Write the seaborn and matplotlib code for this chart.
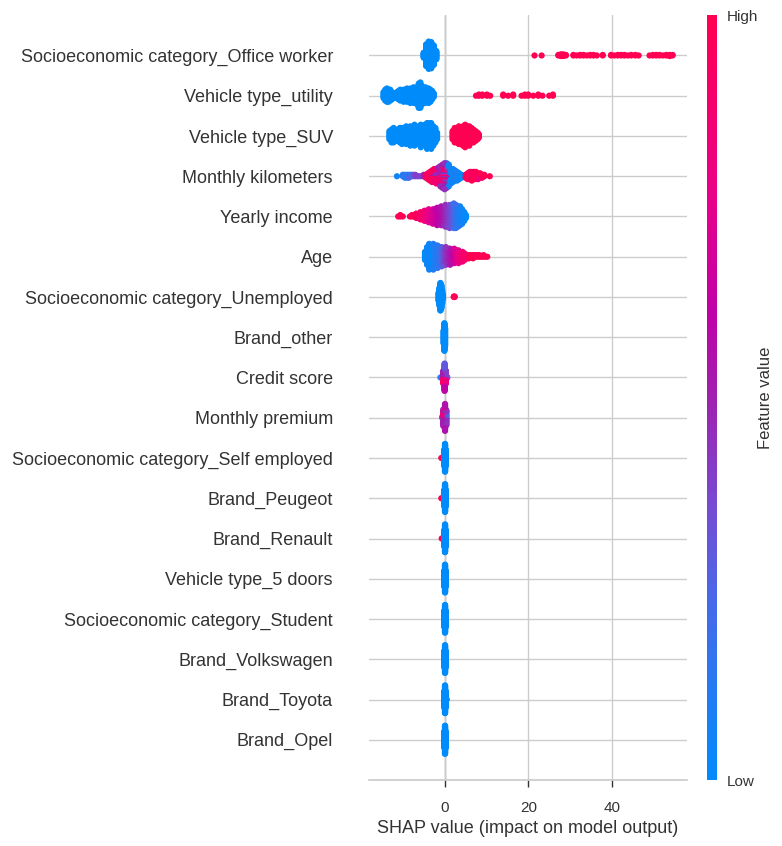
import numpy as np
import pandas as pd
import matplotlib
matplotlib.use('Agg')
import matplotlib.pyplot as plt
from matplotlib.colors import LinearSegmentedColormap, Normalize
from matplotlib.cm import ScalarMappable
import seaborn as sns

# features, top to bottom
features = [
    "Socioeconomic category_Office worker", "Vehicle type_utility", "Vehicle type_SUV",
    "Monthly kilometers", "Yearly income", "Age", "Socioeconomic category_Unemployed",
    "Brand_other", "Credit score", "Monthly premium", "Socioeconomic category_Self employed",
    "Brand_Peugeot", "Brand_Renault", "Vehicle type_5 doors", "Socioeconomic category_Student",
    "Brand_Volkswagen", "Brand_Toyota", "Brand_Opel",
]

# each row: (shap value, number of samples, feature value 0..1)
office_worker = [(-5.0, 10, 0), (-4.4, 40, 0), (-3.8, 50, 0), (-3.2, 48, 0), (-2.6, 36, 0), (-2.0, 16, 0),
                 (21.5, 1, 1), (23.2, 1, 1), (27.2, 2, 1), (27.8, 4, 1), (28.4, 4, 1), (29.0, 2, 1),
                 (30.8, 2, 1), (31.6, 1, 1), (32.4, 2, 1), (33.2, 2, 1), (34.0, 1, 1), (34.8, 2, 1),
                 (35.6, 2, 1), (36.4, 1, 1), (37.8, 2, 1), (39.8, 2, 1), (40.6, 1, 1), (41.4, 2, 1),
                 (42.2, 2, 1), (43.0, 2, 1), (43.8, 1, 1), (44.6, 2, 1), (45.6, 2, 1), (46.4, 1, 1),
                 (49.0, 1, 1), (49.8, 2, 1), (50.6, 2, 1), (51.4, 2, 1), (52.2, 1, 1), (53.0, 2, 1),
                 (53.8, 3, 1), (54.5, 2, 1)]
vehicle_utility = [(-14.6, 6, 0), (-14.2, 10, 0), (-13.8, 12, 0), (-13.4, 11, 0), (-13.0, 10, 0), (-12.6, 7, 0),
                   (-12.2, 5, 0), (-11.8, 4, 0), (-11.4, 6, 0), (-11.0, 8, 0), (-10.6, 10, 0), (-10.2, 8, 0),
                   (-9.8, 11, 0), (-9.4, 9, 0), (-9.0, 12, 0), (-8.6, 10, 0), (-8.2, 13, 0), (-7.8, 11, 0),
                   (-7.4, 14, 0), (-7.0, 12, 0), (-6.6, 15, 0), (-6.2, 21, 0), (-5.8, 22, 0), (-5.4, 16, 0),
                   (-5.0, 13, 0), (-4.6, 14, 0), (-4.2, 12, 0), (-3.8, 13, 0), (-3.4, 11, 0), (-3.0, 8, 0),
                   (-2.6, 4, 0),
                   (7.5, 1, 1), (8.2, 2, 1), (9.0, 2, 1), (10.1, 2, 1), (10.9, 1, 1), (14.0, 2, 1),
                   (15.2, 1, 1), (16.4, 2, 1), (18.4, 1, 1), (19.2, 2, 1), (20.0, 2, 1), (21.2, 1, 1),
                   (22.4, 2, 1), (23.4, 1, 1), (25.0, 1, 1), (25.9, 2, 1)]
vehicle_suv = [(-13.2, 6, 0), (-12.7, 9, 0), (-12.2, 10, 0), (-11.7, 8, 0), (-11.2, 7, 0), (-10.7, 10, 0),
               (-10.2, 11, 0), (-9.7, 9, 0), (-9.2, 12, 0), (-8.7, 10, 0), (-8.2, 13, 0), (-7.7, 11, 0),
               (-7.2, 14, 0), (-6.7, 11, 0), (-6.2, 12, 0), (-5.7, 15, 0), (-5.2, 12, 0), (-4.7, 14, 0),
               (-4.2, 17, 0), (-3.7, 16, 0), (-3.2, 17, 0), (-2.7, 13, 0), (-2.2, 10, 0), (-1.8, 5, 0),
               (1.9, 6, 1), (2.4, 10, 1), (2.9, 9, 1), (3.4, 12, 1), (3.9, 11, 1), (4.4, 13, 1),
               (4.9, 15, 1), (5.4, 12, 1), (5.9, 13, 1), (6.4, 10, 1), (6.9, 9, 1), (7.4, 7, 1),
               (7.9, 5, 1), (8.2, 3, 1)]
monthly_km = [(-11.4, 1, 0.05), (-10.0, 2, 0.1), (-9.5, 3, 0.2), (-9.0, 3, 0.05), (-8.5, 3, 0.25),
              (-8.0, 2, 0.1), (-7.5, 2, 0.3), (-7.0, 2, 0.4), (-6.5, 1, 0.35), (-6.0, 1, 0.4),
              (-5.5, 1, 0.35), (-5.0, 2, 0.5),
              (-4.5, 3, 0.95), (-4.0, 4, 0.9), (-4.0, 1, 0.5), (-3.5, 5, 1.0), (-3.5, 2, 0.6),
              (-3.0, 6, 0.9), (-3.0, 3, 0.55), (-2.5, 6, 0.95), (-2.5, 4, 0.5), (-2.0, 7, 0.85),
              (-2.0, 4, 0.45), (-1.5, 6, 0.9), (-1.5, 6, 0.5), (-1.0, 6, 0.8), (-1.0, 7, 0.45),
              (-1.0, 2, 0.1), (-0.5, 6, 0.9), (-0.5, 8, 0.5), (-0.5, 3, 0.2), (0.0, 5, 0.85),
              (0.0, 9, 0.45), (0.0, 5, 0.15), (0.5, 4, 0.9), (0.5, 7, 0.5), (0.5, 7, 0.1),
              (1.0, 3, 0.8), (1.0, 5, 0.4), (1.0, 8, 0.05), (1.5, 2, 0.6), (1.5, 9, 0.05),
              (2.0, 1, 0.9), (2.0, 9, 0.05), (2.5, 8, 0.1), (3.0, 7, 0.05), (3.5, 5, 0.0), (4.0, 3, 0.0),
              (5.0, 3, 0.95), (5.5, 5, 1.0), (6.0, 6, 0.9), (6.5, 7, 1.0), (7.0, 6, 0.95),
              (7.5, 6, 1.0), (8.0, 5, 0.85), (8.5, 4, 1.0), (9.0, 3, 1.0), (9.5, 2, 1.0), (10.8, 1, 1.0)]
yearly_income = [(-11.1, 1, 1), (-10.6, 2, 1), (-10.0, 1, 0.95), (-8.3, 1, 1), (-7.8, 2, 1), (-7.3, 2, 0.95),
                 (-6.8, 4, 0.95), (-6.3, 3, 0.9), (-5.8, 6, 0.9), (-5.3, 5, 0.85), (-4.8, 8, 0.85),
                 (-4.3, 7, 0.8), (-3.8, 10, 0.75), (-3.3, 9, 0.7), (-2.8, 11, 0.7), (-2.3, 10, 0.65),
                 (-1.8, 13, 0.6), (-1.3, 12, 0.6), (-0.8, 14, 0.55), (-0.3, 13, 0.5), (0.2, 16, 0.45),
                 (0.7, 15, 0.4), (1.2, 17, 0.35), (1.7, 16, 0.3), (2.2, 18, 0.2), (2.7, 17, 0.15),
                 (3.2, 15, 0.1), (3.7, 14, 0.05), (4.2, 11, 0.05), (4.7, 7, 0.0), (5.1, 3, 0.0)]
age = [(-4.7, 6, 0), (-4.2, 12, 0.05), (-3.7, 17, 0.05), (-3.2, 15, 0), (-2.7, 17, 0.1), (-2.2, 14, 0.1),
       (-1.7, 15, 0.15), (-1.2, 12, 0.2), (-0.7, 13, 0.3), (-0.2, 11, 0.4), (0.3, 12, 0.45),
       (0.8, 10, 0.5), (1.3, 11, 0.55), (1.8, 9, 0.6), (2.3, 10, 0.7), (2.8, 8, 0.75),
       (3.3, 9, 0.8), (3.8, 7, 0.85), (4.3, 7, 0.9), (4.8, 5, 0.9), (5.3, 3, 0.95), (5.8, 3, 1),
       (6.3, 2, 1), (6.8, 3, 1), (7.3, 2, 1), (7.8, 2, 1), (8.3, 2, 1), (8.8, 1, 1), (9.3, 2, 1),
       (9.8, 1, 1), (10.2, 1, 1)]
unemployed = [(-1.4, 20, 0), (-1.2, 40, 0), (-1.0, 60, 0), (-0.8, 50, 0), (-0.6, 30, 0), (-0.4, 10, 0),
              (2.2, 2, 1), (2.4, 2, 1)]
brand_other = [(-0.2, 30, 0), (-0.05, 60, 0), (0.1, 40, 0)]
credit_score = [(-1.0, 1, 0.1), (-0.3, 12, 0.9), (-0.3, 12, 0.5), (0.0, 20, 0.6), (0.0, 20, 0.3),
                (0.0, 10, 0.95), (0.3, 12, 0.8), (0.3, 12, 0.4), (0.6, 3, 0.2)]
monthly_premium = [(-0.6, 2, 0.1), (-0.3, 15, 0.5), (-0.3, 10, 0.8), (0.1, 25, 0.55), (0.1, 15, 0.9),
                   (0.4, 15, 0.45), (0.4, 8, 0.2)]
self_employed = [(-0.1, 40, 0), (0.1, 70, 0), (0.3, 40, 0), (-0.8, 1, 1)]
brand_peugeot = [(-0.1, 40, 0), (0.1, 70, 0), (0.3, 40, 0), (-0.8, 1, 1)]
brand_renault = [(-0.1, 40, 0), (0.1, 70, 0), (0.3, 40, 0), (-0.7, 1, 1)]
five_doors = [(0.1, 2, 1), (-0.1, 40, 0), (0.1, 70, 0), (0.3, 40, 0)]
student = [(-0.1, 40, 0), (0.1, 70, 0), (0.3, 40, 0)]
brand_vw = [(-0.1, 40, 0), (0.1, 70, 0), (0.3, 40, 0)]
brand_toyota = [(-0.1, 40, 0), (0.1, 70, 0), (0.3, 40, 0), (0.5, 1, 1)]
brand_opel = [(-0.1, 40, 0), (0.1, 70, 0), (0.3, 40, 0), (0.1, 1, 1)]

rows = [office_worker, vehicle_utility, vehicle_suv, monthly_km, yearly_income, age, unemployed,
        brand_other, credit_score, monthly_premium, self_employed, brand_peugeot, brand_renault,
        five_doors, student, brand_vw, brand_toyota, brand_opel]

shap_colors = ["#008bfb", "#4a68e8", "#7a48d0", "#a020b0", "#c000a8", "#e8008a", "#ff0052"]
cmap = LinearSegmentedColormap.from_list(
    "shap_red_blue", list(zip([0, 0.24, 0.365, 0.5, 0.615, 0.76, 1], shap_colors)))


def beeswarm_offsets(shaps, rank, row_height=0.4, nbins=100):
    # same stacking idea as shap's summary plot
    quant = np.round(nbins * (shaps - shaps.min()) / (shaps.max() - shaps.min() + 1e-8))
    inds = np.lexsort((rank, quant))
    ys = np.zeros(len(shaps))
    layer, last_bin = 0, -1
    for ind in inds:
        if quant[ind] != last_bin:
            layer = 0
        ys[ind] = np.ceil(layer / 2) * ((layer % 2) * 2 - 1)
        layer += 1
        last_bin = quant[ind]
    ys *= 0.9 * (row_height / np.max(ys + 1))
    return ys


n = len(features)
frames = []
for i, groups in enumerate(rows):
    shaps = np.concatenate([np.full(c, v, dtype=float) for v, c, f in groups])
    fvals = np.concatenate([np.full(c, f, dtype=float) for v, c, f in groups])
    rank = np.concatenate([np.arange(c) for v, c, f in groups])
    y = (n - 1 - i) + beeswarm_offsets(shaps, rank)
    frames.append(pd.DataFrame({"shap": shaps, "y": y, "value": fvals, "rank": rank}))
df = pd.concat(frames).sort_values("rank", kind="stable")

sns.set_theme(style="whitegrid")
plt.rcParams['font.family'] = ['Liberation Sans', 'DejaVu Sans']

fig = plt.figure(figsize=(7.82, 8.46), dpi=100)
ax = fig.add_axes([0.472, 0.078, 0.4065, 0.904])
ax.axvline(0, color="#999999", lw=1, zorder=-1)
sns.scatterplot(data=df, x="shap", y="y", hue="value", palette=cmap, hue_norm=(0, 1),
                s=20, linewidth=0, alpha=1, legend=False, ax=ax, zorder=3)

ax.set_ylim(-1, n)
ax.set_yticks(range(n))
ax.set_yticklabels(features[::-1], fontsize=13, color="#333333")
ax.tick_params(axis="y", length=0, pad=26)
ax.set_xticks([0, 20, 40])
ax.tick_params(axis="x", bottom=True, length=5, width=1, pad=10, color="#333333", labelsize=11,
               labelcolor="#333333")
ax.set_xlabel("SHAP value (impact on model output)", fontsize=13, color="#333333")
ax.set_ylabel("")
for side in ["left", "right", "top"]:
    ax.spines[side].set_visible(False)
ax.spines["bottom"].set_color("#cccccc")

cax = fig.add_axes([0.904, 0.078, 0.0128, 0.904])
sm = ScalarMappable(norm=Normalize(0, 1), cmap=cmap)
cb = fig.colorbar(sm, cax=cax, ticks=[0, 1])
cb.set_ticklabels(["Low", "High"])
cb.set_label("Feature value", size=12, labelpad=0, color="#333333")
cb.ax.tick_params(labelsize=11, length=0, pad=7, labelcolor="#333333")
cb.outline.set_visible(False)
cax.grid(False)

fig.savefig("out.png", dpi=100)
